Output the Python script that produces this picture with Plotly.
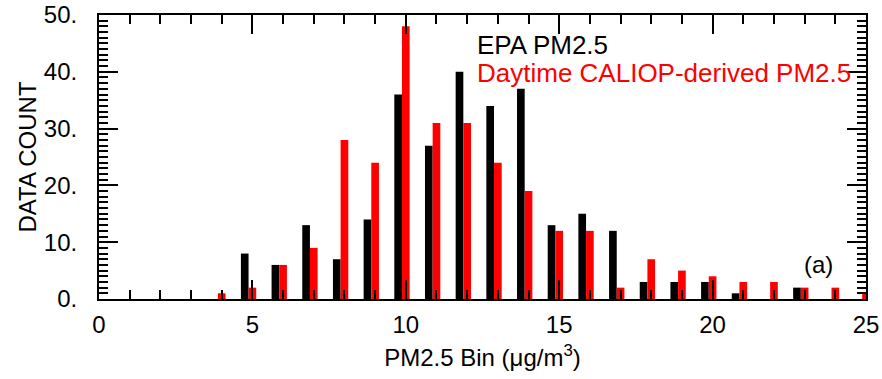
import plotly.graph_objects as go

# PM2.5 bins (µg/m3)
bins = list(range(0, 26))

# EPA PM2.5 data counts per bin
epa_counts = [0, 0, 0, 0, 0, 8, 6, 13, 7, 14, 36, 27, 40, 34, 37, 13, 15, 12, 3, 3, 3, 1, 0, 2, 0, 0]

# Daytime CALIOP-derived PM2.5 data counts per bin
caliop_counts = [0, 0, 0, 0, 1, 2, 6, 9, 28, 24, 48, 31, 31, 24, 19, 12, 12, 2, 7, 5, 4, 3, 3, 2, 2, 1]

# every unit gets a short tick; labels only on every 5th x tick and every 10th y tick
x_tick_vals = list(range(0, 26))
x_tick_text = [str(v) if v % 5 == 0 else "" for v in x_tick_vals]
y_tick_vals = list(range(0, 51))
y_tick_text = [f"{v}." if v % 10 == 0 else "" for v in y_tick_vals]
X_MAJOR, Y_MAJOR = 5, 10

FONT = "Liberation Sans, Arial, Helvetica, sans-serif"
W, H = 882, 379
ML, MR, MT, MB = 99, 16, 15, 80
X_RANGE = [0, 25]
Y_RANGE = [0, 50]
LONG, SHORT = 19, 9

fig = go.Figure()
fig.add_trace(go.Bar(
    x=bins, y=epa_counts, width=0.25, offset=-0.375,
    marker=dict(color="#000000", line=dict(width=0)),
    name="EPA PM2.5", showlegend=False,
))
fig.add_trace(go.Bar(
    x=bins, y=caliop_counts, width=0.25, offset=-0.125,
    marker=dict(color="#FF0000", line=dict(width=0)),
    name="Daytime CALIOP-derived PM2.5", showlegend=False,
))
# invisible helper trace for the long-tick subplot covering the same area
fig.add_trace(go.Scatter(
    x=bins, y=epa_counts, xaxis="x2", yaxis="y2", mode="markers",
    marker=dict(opacity=0), hoverinfo="skip", showlegend=False,
))

tick_common = dict(
    ticks="inside", tickcolor="black", tickwidth=2,
    showgrid=False, zeroline=False, automargin=False,
)
tfont = dict(family=FONT, size=24, color="black")

fig.update_layout(
    # primary axes: short ticks every unit, mirrored to top/right, with labels
    xaxis=dict(
        range=X_RANGE, tickvals=x_tick_vals, ticktext=x_tick_text, ticklen=SHORT,
        showline=True, linecolor="black", linewidth=2, mirror="allticks",
        ticklabelstandoff=3, tickfont=tfont,
        title=dict(text="PM2.5 Bin (μg/m<sup>3</sup>)", standoff=12, font=tfont),
        **tick_common,
    ),
    yaxis=dict(
        range=Y_RANGE, tickvals=y_tick_vals, ticktext=y_tick_text, ticklen=SHORT,
        showline=True, linecolor="black", linewidth=2, mirror="allticks",
        ticklabelstandoff=15, tickfont=tfont,
        title=dict(text="DATA COUNT", standoff=0, font=tfont),
        **tick_common,
    ),
    # second subplot on the same area: long ticks, mirrored to top/right
    xaxis2=dict(range=X_RANGE, tickmode="linear", tick0=0, dtick=X_MAJOR, ticklen=LONG,
                side="bottom", anchor="y2", showticklabels=False, showline=False,
                mirror="allticks", **tick_common),
    yaxis2=dict(range=Y_RANGE, tickmode="linear", tick0=0, dtick=Y_MAJOR, ticklen=LONG,
                side="left", anchor="x2", showticklabels=False, showline=False,
                mirror="allticks", **tick_common),
)

pw = W - ML - MR
ph = H - MT - MB

def px_x(v):
    return (v - ML) / pw

def px_y(v):
    return (H - MB - v) / ph

fig.add_annotation(text="EPA PM2.5", xref="paper", yref="paper",
                   x=px_x(475), y=px_y(45), xanchor="left", yanchor="middle",
                   showarrow=False, font=dict(family=FONT, size=26, color="black"))
fig.add_annotation(text="Daytime CALIOP-derived PM2.5", xref="paper", yref="paper",
                   x=px_x(475), y=px_y(73), xanchor="left", yanchor="middle",
                   showarrow=False, font=dict(family=FONT, size=26, color="#FF0000"))
fig.add_annotation(text="(a)", xref="paper", yref="paper",
                   x=px_x(818), y=px_y(264), xanchor="center", yanchor="middle",
                   showarrow=False, font=dict(family=FONT, size=24, color="black"))

fig.update_layout(
    width=W, height=H,
    margin=dict(l=ML, r=MR, t=MT, b=MB, pad=0, autoexpand=False),
    barmode="overlay",
    plot_bgcolor="rgba(0,0,0,0)", paper_bgcolor="white",
    showlegend=False,
    font=dict(family=FONT, color="black"),
)

fig.write_html("out.html")
